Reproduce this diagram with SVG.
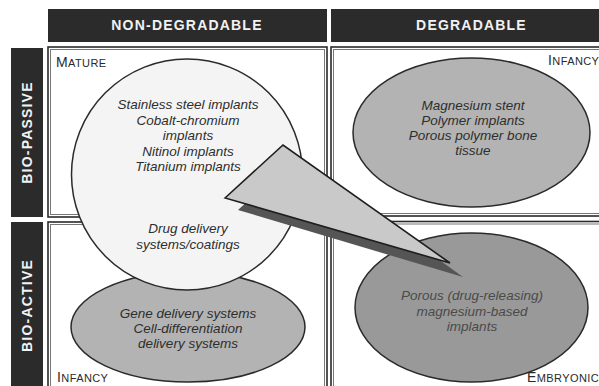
<svg xmlns="http://www.w3.org/2000/svg" width="599" height="386" viewBox="0 0 599 386">
<style>
.bar{fill:#2b2b2b}
.bt{font-family:"Liberation Sans",Arial,sans-serif;font-weight:bold;font-size:14px;fill:#f2f2f2;letter-spacing:1.2px;text-anchor:middle}
.bo{fill:none;stroke:#2a2a2a;stroke-width:1.6}
.bi{fill:none;stroke:#777;stroke-width:1}
.it{font-family:"Liberation Sans",Arial,sans-serif;font-style:italic;font-size:13.5px;fill:#2e2e2e;text-anchor:middle}
.sc{font-family:"Liberation Sans",Arial,sans-serif;fill:#2a2a2a;letter-spacing:0.4px}
.big{font-size:14px}
.sm{font-size:11px}
.ell{stroke:#2a2a2a;stroke-width:1.5}
</style>
<rect width="599" height="386" fill="#ffffff"/>
<g id="headers">
<g id="hdr-nondeg"><rect class="bar" x="48" y="9" width="279" height="33"/><text class="bt" x="187" y="30">NON-DEGRADABLE</text></g>
<g id="hdr-deg"><rect class="bar" x="331" y="9" width="280" height="33"/><text class="bt" x="471.5" y="30">DEGRADABLE</text></g>
<g id="hdr-biopassive"><rect class="bar" x="11" y="48" width="32" height="169"/><text class="bt" transform="translate(32,132.5) rotate(-90)">BIO-PASSIVE</text></g>
<g id="hdr-bioactive"><rect class="bar" x="11" y="222" width="32" height="170"/><text class="bt" transform="translate(32,305.5) rotate(-90)">BIO-ACTIVE</text></g>
</g>
<g id="quadrants">
<g id="q-tl"><rect class="bo" x="48" y="47" width="279" height="170"/><rect class="bi" x="50.5" y="49.5" width="274" height="165"/></g>
<g id="q-tr"><rect class="bo" x="331" y="47" width="290" height="169"/><rect class="bi" x="333.5" y="49.5" width="290" height="164"/></g>
<g id="q-bl"><rect class="bo" x="48" y="222" width="279" height="180"/><rect class="bi" x="50.5" y="224.5" width="274" height="180"/></g>
<g id="q-br"><rect class="bo" x="331" y="221.5" width="290" height="180"/><rect class="bi" x="333.5" y="224" width="290" height="180"/></g>
</g>
<g id="stage-labels">
<text class="sc" x="56" y="67"><tspan class="big">M</tspan><tspan class="sm">ATURE</tspan></text>
<text class="sc" x="548" y="65"><tspan class="big">I</tspan><tspan class="sm">NFANCY</tspan></text>
<text class="sc" x="57" y="382"><tspan class="big">I</tspan><tspan class="sm">NFANCY</tspan></text>
<text class="sc" x="527" y="382"><tspan class="big">E</tspan><tspan class="sm">MBRYONIC</tspan></text>
</g>
<g id="node-gene">
<ellipse class="ell" cx="188" cy="327" rx="117" ry="55" fill="#b3b3b3"/>
<text class="it" x="188" y="318">Gene delivery systems</text>
<text class="it" x="188" y="333">Cell-differentiation</text>
<text class="it" x="188" y="348">delivery systems</text>
</g>
<g id="node-nondeg">
<circle class="ell" cx="187" cy="174.5" r="115.5" fill="#f4f4f4"/>
<text class="it" x="188" y="109">Stainless steel implants</text>
<text class="it" x="188" y="124.5">Cobalt-chromium</text>
<text class="it" x="188" y="140">implants</text>
<text class="it" x="188" y="155.5">Nitinol implants</text>
<text class="it" x="188" y="171">Titanium implants</text>
<text class="it" x="188" y="233">Drug delivery</text>
<text class="it" x="188" y="248.5">systems/coatings</text>
</g>
<g id="node-deg">
<ellipse class="ell" cx="471.5" cy="132.5" rx="118.5" ry="74.5" fill="#b3b3b3"/>
<text class="it" x="473" y="110">Magnesium stent</text>
<text class="it" x="473" y="125">Polymer implants</text>
<text class="it" x="473" y="140">Porous polymer bone</text>
<text class="it" x="473" y="155">tissue</text>
</g>
<g id="node-porous">
<ellipse class="ell" cx="471.5" cy="307.5" rx="116.5" ry="74.5" fill="#999999"/>
<text class="it" x="472" y="300" fill="#4a4a4a" style="fill:#4a4a4a">Porous (drug-releasing)</text>
<text class="it" x="472" y="316" style="fill:#4a4a4a">magnesium-based</text>
<text class="it" x="472" y="331" style="fill:#4a4a4a">implants</text>
</g>
<g id="connectors">
<polygon points="238,210 296,157 463,277" fill="#555555"/>
<polygon points="225,198 283,145 450,263" fill="#c9c9c9" stroke="#1e1e1e" stroke-width="1.6" stroke-linejoin="miter"/>
</g>
</svg>
